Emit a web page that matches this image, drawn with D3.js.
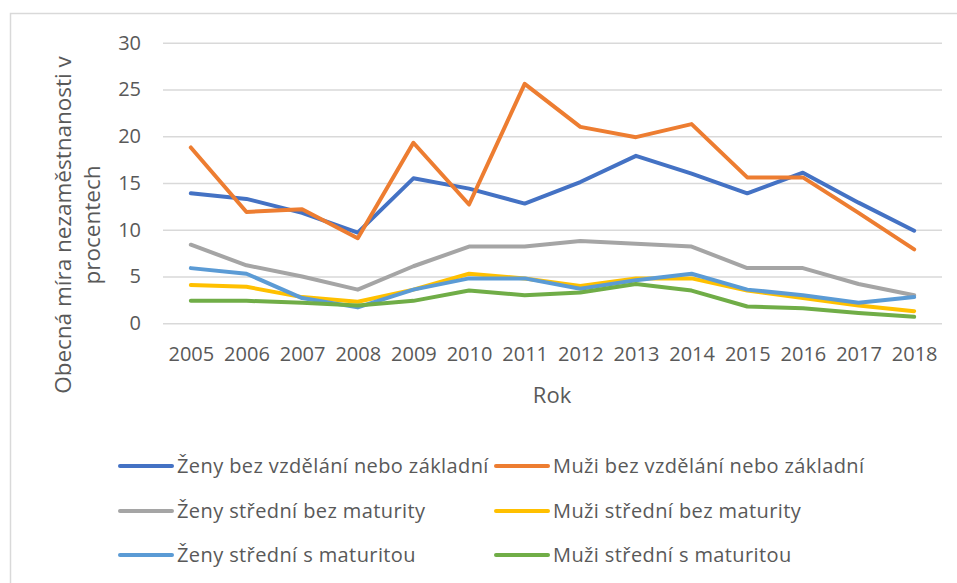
<!DOCTYPE html>
<html>
<head>
<meta charset="utf-8">
<script src="https://cdn.jsdelivr.net/npm/d3@7"></script>
<style>
    body { margin: 0; background: #fff; }
    #chart { width: 957px; height: 583px; }
    text { font-family: "Open Sans", sans-serif; fill: #595959; }
</style>
</head>
<body>
<div id="chart"></div>
<script>

// data
let years = ["2005", "2006", "2007", "2008", "2009", "2010", "2011", "2012", "2013", "2014", "2015", "2016", "2017", "2018"];
let yTicks = [0, 5, 10, 15, 20, 25, 30];

let zenyBez = [13.9, 13.3, 11.8, 9.7, 15.5, 14.4, 12.8, 15.1, 17.9, 16.0, 13.9, 16.1, 12.9, 9.9];
let muziBez = [18.8, 11.9, 12.2, 9.1, 19.3, 12.7, 25.6, 21.0, 19.9, 21.3, 15.6, 15.6, 11.8, 7.9];
let zenyStredni = [8.4, 6.2, 5.0, 3.6, 6.1, 8.2, 8.2, 8.8, 8.5, 8.2, 5.9, 5.9, 4.2, 3.0];
let muziStredni = [4.1, 3.9, 2.8, 2.3, 3.6, 5.3, 4.8, 4.0, 4.8, 4.8, 3.5, 2.7, 1.9, 1.3];
let zenyMaturita = [5.9, 5.3, 2.7, 1.7, 3.6, 4.8, 4.8, 3.7, 4.6, 5.3, 3.6, 3.0, 2.2, 2.8];
let muziMaturita = [2.4, 2.4, 2.2, 1.9, 2.4, 3.5, 3.0, 3.3, 4.2, 3.5, 1.8, 1.6, 1.1, 0.7];

let seriesNames = [
    "Ženy bez vzdělání nebo základní",
    "Muži bez vzdělání nebo základní",
    "Ženy střední bez maturity",
    "Muži střední bez maturity",
    "Ženy střední s maturitou",
    "Muži střední s maturitou"
];
let seriesColors = ["#4472C4", "#ED7D31", "#A5A5A5", "#FFC000", "#5B9BD5", "#70AD47"];

class LineVis {

    constructor(parentElement) {
        this.parentElement = parentElement;
        this.series = [zenyBez, muziBez, zenyStredni, muziStredni, zenyMaturita, muziMaturita]
            .map((vals, i) => ({name: seriesNames[i], color: seriesColors[i], values: vals}));
        this.initVis();
    }

    initVis() {
        let vis = this;

        vis.margin = {top: 42.7, right: 15, bottom: 259.7, left: 163};
        vis.fullWidth = 957;
        vis.fullHeight = 583;
        vis.width = vis.fullWidth - vis.margin.left - vis.margin.right;
        vis.height = vis.fullHeight - vis.margin.top - vis.margin.bottom;

        vis.root = d3.select("#" + vis.parentElement).append("svg")
            .attr("width", vis.fullWidth)
            .attr("height", vis.fullHeight);

        // chart frame (only top and left edge are inside the picture)
        vis.root.append("rect")
            .attr("x", 10.5)
            .attr("y", 13.5)
            .attr("width", 1000)
            .attr("height", 1000)
            .attr("fill", "none")
            .attr("stroke", "#d9d9d9")
            .attr("stroke-width", 1.5);

        vis.svg = vis.root.append("g")
            .attr("transform", `translate (${vis.margin.left}, ${vis.margin.top})`);

        vis.xScale = d3.scalePoint()
            .domain(years)
            .range([0, vis.width])
            .padding(0.5);

        vis.yScale = d3.scaleLinear()
            .domain([0, 30])
            .range([vis.height, 0]);

        // gridlines
        vis.svg.append("g")
            .attr("class", "grid")
            .call(d3.axisLeft(vis.yScale).tickValues(yTicks).tickSize(-vis.width).tickFormat(""))
            .call(g => g.select(".domain").remove())
            .selectAll("line")
            .attr("stroke", "#d9d9d9")
            .attr("stroke-width", 1.5);

        // y axis labels
        vis.svg.append("g")
            .attr("class", "axis y-axis")
            .call(d3.axisLeft(vis.yScale).tickValues(yTicks).tickSize(0).tickPadding(22))
            .call(g => g.select(".domain").remove())
            .selectAll("text")
            .attr("font-size", 20);

        // x axis labels
        vis.svg.append("g")
            .attr("class", "axis x-axis")
            .attr("transform", `translate (0,${vis.height})`)
            .call(d3.axisBottom(vis.xScale).tickSize(0).tickPadding(24))
            .call(g => g.select(".domain").remove())
            .selectAll("text")
            .attr("font-size", 20);

        vis.root.selectAll(".axis text").attr("font-family", null);

        // axis titles
        vis.root.append("text")
            .attr("x", 552)
            .attr("y", 403)
            .attr("text-anchor", "middle")
            .attr("font-size", 22)
            .text("Rok");

        let yTitle = vis.root.append("text")
            .attr("text-anchor", "middle")
            .attr("font-size", 22.5)
            .attr("transform", "translate(71, 225) rotate(-90)");
        yTitle.append("tspan").attr("x", 0).attr("y", 0).text("Obecná míra nezaměstnanosti v");
        yTitle.append("tspan").attr("x", 0).attr("y", 29).text("procentech");

        vis.updateVis();
    }

    updateVis() {
        let vis = this;

        let line = d3.line()
            .x((d, i) => vis.xScale(years[i]))
            .y(d => vis.yScale(d));

        vis.svg.selectAll(".series")
            .data(vis.series)
            .enter()
            .append("path")
            .attr("class", "series")
            .attr("d", d => line(d.values))
            .attr("fill", "none")
            .attr("stroke", d => d.color)
            .attr("stroke-width", 4)
            .attr("stroke-linejoin", "round")
            .attr("stroke-linecap", "round");

        // legend, 2 columns x 3 rows
        let legend = vis.root.append("g").attr("class", "legend");
        let colX = [120, 496];
        let rowY = [466, 511, 555];

        let items = legend.selectAll(".legend-item")
            .data(vis.series)
            .enter()
            .append("g")
            .attr("class", "legend-item")
            .attr("transform", (d, i) => `translate(${colX[i % 2]}, ${rowY[Math.floor(i / 2)]})`);

        items.append("line")
            .attr("x1", 0)
            .attr("x2", 52)
            .attr("stroke", d => d.color)
            .attr("stroke-width", 4)
            .attr("stroke-linecap", "round");

        items.append("text")
            .attr("x", 57)
            .attr("dy", "0.35em")
            .attr("font-size", 20)
            .attr("letter-spacing", 0.4)
            .text(d => d.name);
    }
}

let lineVis = new LineVis("chart");

</script>
</body>
</html>
